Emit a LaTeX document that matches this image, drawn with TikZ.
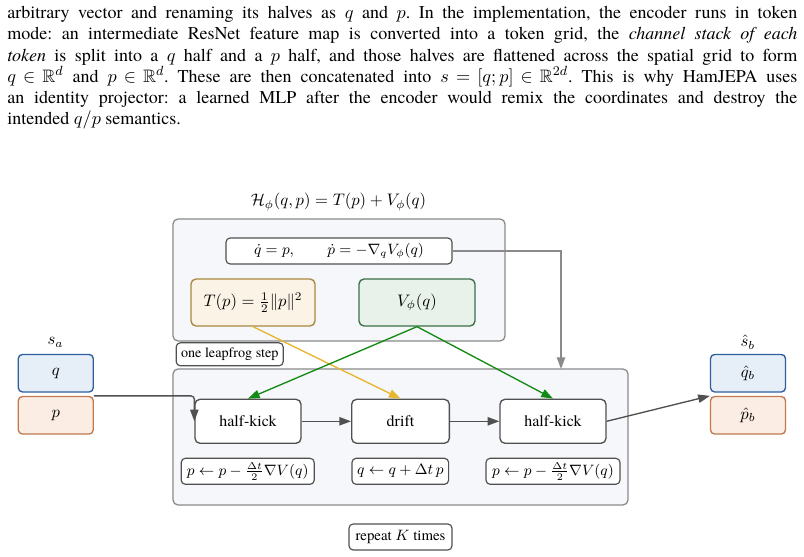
\documentclass[tikz,border=0pt]{standalone}
\usepackage{amsmath,amssymb}
\usepackage{fontspec}
\setmainfont{texgyretermes}[Extension=.otf, UprightFont=*-regular, ItalicFont=*-italic, BoldFont=*-bold, BoldItalicFont=*-bolditalic]
\usetikzlibrary{arrows.meta}
\definecolor{cbg}{HTML}{F5F7FB}
\definecolor{cgray}{HTML}{8A8A8A}
\definecolor{dgray}{HTML}{505050}
\definecolor{tfill}{HTML}{FAF3E6}
\definecolor{tdraw}{HTML}{A8883F}
\definecolor{vfill}{HTML}{E8F2EA}
\definecolor{vdraw}{HTML}{3A6F47}
\definecolor{qfill}{HTML}{E6EEF8}
\definecolor{qdraw}{HTML}{2F5F9C}
\definecolor{pfill}{HTML}{FBEDE3}
\definecolor{pdraw}{HTML}{C07A4E}
\definecolor{ycol}{HTML}{E8B52E}
\definecolor{gcol}{HTML}{138A13}
\frenchspacing
\tikzset{
  container/.style={draw=cgray, line width=0.75pt, fill=cbg, rounded corners=3pt, inner sep=0pt},
  opbox/.style={draw=dgray, line width=0.8pt, fill=white, rounded corners=3pt, inner sep=0pt,
    minimum height=26.4pt, font=\fontsize{9.6}{11}\selectfont},
  smallbox/.style={draw=dgray, line width=0.7pt, fill=white, rounded corners=2.5pt, inner sep=0pt,
    minimum height=15.6pt, font=\fontsize{8.9}{10}\selectfont},
  statebox/.style={line width=0.8pt, rounded corners=2.5pt, inner sep=0pt, minimum width=45pt,
    minimum height=22.5pt, font=\fontsize{9.6}{11}\selectfont},
  termbox/.style={line width=0.8pt, rounded corners=3pt, inner sep=0pt, minimum height=28.2pt,
    font=\fontsize{10}{12}\selectfont},
  conn/.style={draw=dgray, line width=0.8pt, -{Triangle[length=7pt,width=5pt]}},
  yconn/.style={draw=ycol, line width=0.8pt, -{Triangle[length=7pt,width=5pt]}},
  gconn/.style={draw=gcol, line width=0.8pt, -{Triangle[length=7pt,width=5pt]}},
  lconn/.style={draw=cgray, line width=0.75pt, -{Triangle[length=7pt,width=5pt]}},
  para/.style={anchor=base west, inner sep=0pt, font=\fontsize{10.8}{12.8}\selectfont},
}
\newcommand{\fline}[1]{{\thickmuskip=5mu plus 1mu\relax\medmuskip=4mu plus 1mu minus 4mu\relax\makebox[474pt][s]{#1}}}
\begin{document}
\begin{tikzpicture}[x=0.6pt,y=-0.6pt]
\useasboundingbox[fill=white] (0,0) rectangle (804,557);
% paragraph
\node[para] (l1) at (7,18.5) {\fline{arbitrary vector and renaming its halves as $q$ and $p$. In the implementation, the encoder runs in token}};
\node[para] (l2) at (7,39.8) {\fline{mode: an intermediate ResNet feature map is converted into a token grid, the \textit{channel stack of each}}};
\node[para] (l3) at (7,61.1) {\fline{\textit{token} is split into a $q$ half and a $p$ half, and those halves are flattened across the spatial grid to form}};
\node[para] (l4) at (7,82.4) {\fline{$q \in \mathbb{R}^d$ and $p \in \mathbb{R}^d$. These are then concatenated into $s=[q;p]\in\mathbb{R}^{2d}$. This is why HamJEPA uses}};
\node[para] (l5) at (7,103.7) {\fline{an identity projector: a learned MLP after the encoder would remix the coordinates and destroy the}};
\node[para] (l6) at (7,125) {intended $q/p$ semantics.};
% containers
\node[container, minimum width=199.2pt, minimum height=73.2pt] (ham) at (339,280) {};
\node[container, minimum width=273pt, minimum height=81.6pt] (leap) at (400.5,437) {};
\node[font=\fontsize{10.2}{12}\selectfont, inner sep=0pt] (title) at (338.5,202) {$\mathcal{H}_\phi(q,p) = T(p) + V_\phi(q)$};
\coordinate (leaptop) at (561,369);
% nodes
\node[smallbox, minimum width=135.6pt, font=\fontsize{9.2}{11}\selectfont] (eq) at (339,251) {$\dot q = p, \qquad \dot p = -\nabla_q V_\phi(q)$};
\node[termbox, draw=tdraw, fill=tfill, minimum width=74.4pt] (T) at (253,302.5) {$T(p) = \frac{1}{2}\|p\|^2$};
\node[termbox, draw=vdraw, fill=vfill, minimum width=69.6pt] (V) at (417,302.5) {$V_\phi(q)$};
\node[smallbox, minimum width=64.2pt, minimum height=13.8pt, font=\fontsize{8.5}{10}\selectfont] (lf) at (229.7,354.3) {one leapfrog step};
\node[opbox, minimum width=63.6pt] (hk1) at (248,421.3) {half-kick};
\node[opbox, minimum width=58.6pt] (drift) at (400.5,421.3) {drift};
\node[opbox, minimum width=63.6pt] (hk2) at (553,421.3) {half-kick};
\node[smallbox, minimum width=79.8pt] (f1) at (247.7,471.3) {$p \leftarrow p - \frac{\Delta t}{2}\nabla V(q)$};
\node[smallbox, minimum width=58pt] (f2) at (400.3,471.3) {$q \leftarrow q + \Delta t\, p$};
\node[smallbox, minimum width=80.4pt] (f3) at (553,471.3) {$p \leftarrow p - \frac{\Delta t}{2}\nabla V(q)$};
\node[smallbox, minimum width=61.8pt] (rep) at (400.5,537) {repeat $K$ times};
% states
\node[font=\fontsize{9.6}{11}\selectfont, inner sep=0pt] (sa) at (55.5,342.5) {$s_a$};
\node[statebox, draw=qdraw, fill=qfill] (q) at (55.8,373.2) {$q$};
\node[statebox, draw=pdraw, fill=pfill] (p) at (55.8,415.3) {$p$};
\node[font=\fontsize{9.6}{11}\selectfont, inner sep=0pt] (sb) at (747.8,342) {$\hat s_b$};
\node[statebox, draw=qdraw, fill=qfill] (qb) at (748,373.2) {$\hat q_b$};
\node[statebox, draw=pdraw, fill=pfill] (pb) at (748,415.3) {$\hat p_b$};
% connectors
\draw[yconn] (T.south) -- (drift.north);
\draw[gconn] (V.south) -- (hk1.north);
\draw[gconn] (V.south) -- (hk2.north);
\draw[lconn] (eq.east) -| (leaptop);
\draw[conn, rounded corners=2pt] (p.north east) -| (hk1.west);
\draw[conn] (hk1) -- (drift);
\draw[conn] (drift) -- (hk2);
\draw[conn] (hk2.east) -- (pb.north west);
\end{tikzpicture}
\end{document}
